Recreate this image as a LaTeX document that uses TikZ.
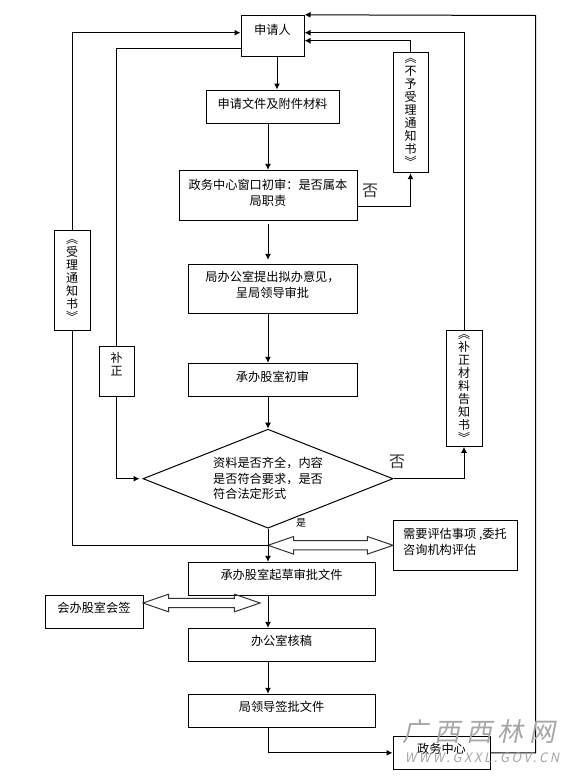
\documentclass[tikz,border=0pt]{standalone}
\usepackage{fontspec}
\setmainfont{Noto Sans CJK SC}
\usepackage{xcolor}
\usepackage{tikz}
\usetikzlibrary{arrows.meta,positioning,shapes.geometric,shapes.arrows}

\begin{document}
\begin{tikzpicture}[
  x=1pt,y=-1pt,
  box/.style={draw,line width=1pt,align=center,inner sep=0pt,font=\fontsize{12.2}{16}\selectfont},
  slip/.style={box,font=\fontsize{12}{13}\selectfont},
  arrow/.style={-{Latex[length=6pt,width=6pt]},line width=1pt},
  link/.style={line width=1pt},
  dblarrow/.style={double arrow,draw=black!80,line width=1pt,inner sep=0pt,minimum width=16.5pt,
    double arrow head extend=4.2pt,double arrow tip angle=38,double arrow head indent=0pt,inner ysep=4.1pt},
  wordno/.style={font=\fontsize{16}{16}\selectfont,text=black!80},
  wmark/.style={text=black!35,xslant=.2}
]
\useasboundingbox (0,0) rectangle (577,780);
\coordinate (trunk) at (268,0);
\coordinate (junction) at (268,545.3);
\coordinate (rail) at (535.5,15.5);
% main column
\node[box,minimum width=63pt,minimum height=41.4pt,text depth=14pt] (applicant) at (272.5,36) {申请人};
\node[box,minimum width=133pt,minimum height=33.3pt,text depth=7pt] (material) at (272.5,106.7) {申请文件及附件材料};
\node[box,minimum width=178pt,minimum height=50pt,text depth=6pt] (window) at (268,195.3) {政务中心窗口初审：是否属本\\局职责};
\node[box,minimum width=169pt,minimum height=49pt,text depth=9pt] (office) at (272.5,288.8) {局办公室提出拟办意见，\\呈局领导审批};
\node[box,minimum width=169pt,minimum height=33.4pt,text depth=8pt] (firstcheck) at (272.5,380) {承办股室初审};
\node[diamond,draw,line width=1pt,aspect=2.52,minimum width=250pt,minimum height=99pt,inner sep=0pt,align=left,font=\fontsize{12.2}{15.5}\selectfont] (check) at (268,478.7) {资料是否齐全，内容\\是否符合要求，是否\\符合法定形式};
\node[box,minimum width=187pt,minimum height=33pt,text depth=8pt] (draft) at (281.5,578.8) {承办股室起草审批文件};
\node[box,minimum width=187pt,minimum height=33pt,text depth=8pt] (review) at (281.5,644.8) {办公室核稿};
\node[box,minimum width=187pt,minimum height=33pt,text depth=8pt] (signoff) at (281.5,710.8) {局领导签批文件};
\node[box,minimum width=97pt,minimum height=33pt,text depth=8pt] (center) at (441.5,752.8) {政务中心};
% side boxes
\node[slip,minimum width=35pt,minimum height=120.4pt] (refusal) at (410.5,112.5) {︽\\不\\予\\受\\理\\通\\知\\书\\︾};
\node[slip,minimum width=36pt,minimum height=99.7pt] (accepted) at (72,280.8) {︽\\受\\理\\通\\知\\书\\︾};
\node[slip,minimum width=35pt,minimum height=50.4pt,text depth=16pt] (amend) at (116.5,371.5) {补\\正};
\node[slip,minimum width=36pt,minimum height=116pt] (amendnotice) at (464,388.3) {︽\\补\\正\\材\\料\\告\\知\\书\\︾};
\node[box,minimum width=124pt,minimum height=50pt,text depth=8pt,align=left] (assess) at (455,545.3) {需要评估事项 ,委托\\咨询机构评估};
\node[box,minimum width=98pt,minimum height=33pt,text depth=8pt] (cosign) at (94,611.8) {会办股室会签};
% two-way arrows
\node[dblarrow,minimum height=125pt] (assesslink) at (330.5,545.3) {};
\node[dblarrow,minimum height=117pt] (cosignlink) at (201.5,603) {};
% labels
\node[wordno] (noa) at (370,191) {否};
\node[wordno] (nob) at (397,462) {否};
\node[font=\fontsize{10}{10}\selectfont] (yes) at (301,523) {是};
% down the column
\draw[arrow] (applicant.south -| 277,0) -- (material.north -| 277,0);
\draw[arrow] (material.south -| trunk) -- (window.north -| trunk);
\draw[arrow,shorten <=3pt,shorten >=4pt] (window.south -| trunk) -- (office.north -| trunk);
\draw[arrow] (office.south -| trunk) -- (firstcheck.north -| trunk);
\draw[arrow] (firstcheck.south -| trunk) -- (check.north);
\draw[arrow] (check.south) -- (draft.north -| trunk);
\draw[arrow] (draft.south -| trunk) -- (review.north -| trunk);
\draw[arrow] (review.south -| trunk) -- (signoff.north -| trunk);
\draw[arrow] (signoff.south -| trunk) |- (center.west);
% going back to the applicant
\draw[arrow] ([yshift=-11pt]window.east) -| (refusal.south);
\draw[arrow] (refusal.north) |- ([yshift=-4.7pt]applicant.east);
\draw[arrow] (check.east) -| (amendnotice.south);
\draw[arrow] (amendnotice.north) |- ([yshift=3.3pt]applicant.east);
\draw[arrow] (center.east) -| (rail) -- (applicant.north east);
\draw[link] (junction) -| (accepted.south);
\draw[arrow] (accepted.north) |- ([yshift=3.3pt]applicant.west);
\draw[link] ([yshift=-12.3pt]applicant.west) -| (amend.north);
\draw[arrow,shorten >=3pt] (amend.south) |- (check.west);
% site mark
\node[wmark,font=\fontsize{26}{26}\selectfont\addfontfeature{LetterSpace=22}] (sitename) at (481,732) {广西西林网};
\node[wmark,font=\fontsize{13}{13}\selectfont\addfontfeature{LetterSpace=20}] (siteurl) at (483,758) {WWW.GXXL.GOV.CN};
\end{tikzpicture}
\end{document}
